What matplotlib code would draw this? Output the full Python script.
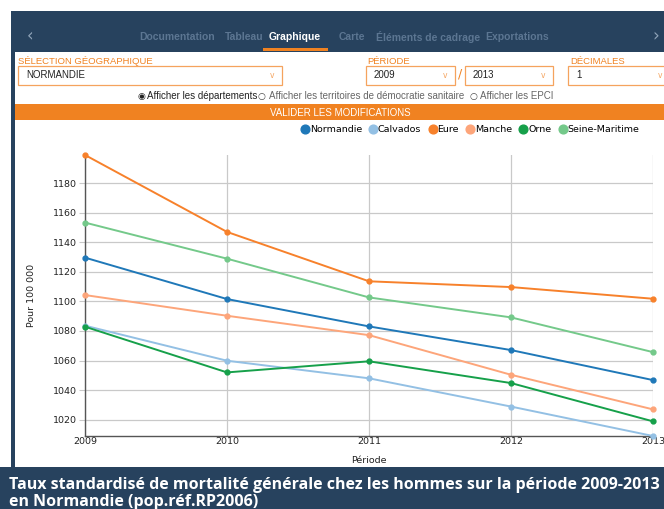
import matplotlib
matplotlib.use("Agg")
import matplotlib.pyplot as plt
from matplotlib.patches import Rectangle

years = [2009, 2010, 2011, 2012, 2013]
names = ["Normandie", "Calvados", "Eure", "Manche", "Orne", "Seine-Maritime"]
normandie = [1129.6, 1101.6, 1083.1, 1067.1, 1046.8]
calvados = [1083.6, 1059.9, 1048.0, 1028.9, 1009.0]
eure = [1199.0, 1147.0, 1113.6, 1109.7, 1101.8]
manche = [1104.3, 1090.3, 1077.2, 1050.4, 1027.0]
orne = [1082.9, 1052.0, 1059.5, 1044.8, 1018.9]
seine_maritime = [1153.3, 1128.9, 1102.7, 1089.2, 1065.7]
series = [normandie, calvados, eure, manche, orne, seine_maritime]
colors = ["#1f78b8", "#93c0e4", "#f7812b", "#fda57a", "#16a04a", "#74c98a"]
y_ticks = [1020, 1040, 1060, 1080, 1100, 1120, 1140, 1160, 1180]

tabs = ["Documentation", "Tableau", "Graphique", "Carte", "Éléments de cadrage", "Exportations"]
tab_x = [177, 244, 295, 352, 428, 517]

W, H = 664, 509
navy = "#27425e"
orange = "#f08221"
ui = ["Liberation Sans", "DejaVu Sans"]

fig = plt.figure(figsize=(W / 100, H / 100), dpi=100, facecolor="white")


def fx(x):
    return x / W


def fy(y):
    return 1 - y / H


def rect(x0, y0, x1, y1, **kw):
    fig.patches.append(Rectangle((fx(x0), fy(y1)), fx(x1) - fx(x0), fy(y0) - fy(y1),
                                 transform=fig.transFigure, **kw))


def txt(x, y, s, **kw):
    fig.text(fx(x), fy(y), s, **kw)


# frame
rect(11, 11, W, H, facecolor=navy, edgecolor="none")
rect(15, 52, W, 467, facecolor="white", edgecolor="none")

# nav bar
txt(30, 36, "‹", color="#8fa3b8", fontsize=12, va="center", ha="center")
txt(656, 36, "›", color="#8fa3b8", fontsize=12, va="center", ha="center")
for t, x in zip(tabs, tab_x):
    active = t == "Graphique"
    txt(x, 37, t, color="white" if active else "#5c7692", fontsize=7.5,
        fontweight="bold", va="center", ha="center", family=ui)
rect(263, 48, 328, 51, facecolor=orange, edgecolor="none")

# selectors
lab = dict(color=orange, fontsize=6.8, va="center", ha="left", family=ui)
txt(18, 61, "SÉLECTION GÉOGRAPHIQUE", **lab)
txt(367, 61, "PÉRIODE", **lab)
txt(570, 61, "DÉCIMALES", **lab)
for x0, x1, s in [(18, 282, "NORMANDIE"), (366, 455, "2009"), (465, 553, "2013"), (568, 670, "1")]:
    rect(x0, 66, x1, 85, facecolor="white", edgecolor="#f5a35e", linewidth=0.9)
    txt(x0 + 8, 75.5, s, color="#222222", fontsize=7, va="center", ha="left", family=ui)
    txt(x1 - 10, 75, "v", color="#f5a35e", fontsize=5.5, va="center", ha="center")
txt(460, 74, "/", color=orange, fontsize=9, va="center", ha="center")

txt(137, 96, "◉", color="#222222", fontsize=6.5, va="center", ha="left")
txt(147, 96, "Afficher les départements", color="#222222", fontsize=7, va="center",
    ha="left", family=ui)
txt(258, 96, "○", color="#444444", fontsize=6.5, va="center", ha="left")
txt(269, 96, "Afficher les territoires de démocratie sanitaire", color="#666666",
    fontsize=7, va="center", ha="left", family=ui)
txt(469, 96, "○", color="#444444", fontsize=6.5, va="center", ha="left")
txt(480, 96, "Afficher les EPCI", color="#666666", fontsize=7, va="center",
    ha="left", family=ui)

rect(15, 104, W, 120, facecolor=orange, edgecolor="none")
txt(340, 112.5, "VALIDER LES MODIFICATIONS", color="white", fontsize=7, va="center",
    ha="center", family=ui)

# chart
ax = fig.add_axes([fx(85), fy(436), fx(653) - fx(85), fy(155) - fy(436)])
ax.set_zorder(5)
for vals, c, n in zip(series, colors, names):
    ax.plot(years, vals, color=c, lw=1.4, marker="o", ms=3.5, label=n, clip_on=False, zorder=3)
ax.set_xlim(years[0], years[-1])
ax.set_ylim(min(calvados), max(eure))
ax.set_xticks(years)
ax.set_yticks(y_ticks)
ax.grid(True, color="#c9c9c9", lw=0.9)
ax.set_axisbelow(True)
for s in ["top", "right"]:
    ax.spines[s].set_visible(False)
for s in ["left", "bottom"]:
    ax.spines[s].set_color("#555555")
    ax.spines[s].set_linewidth(1)
ax.tick_params(axis="y", length=4, color="#c9c9c9", labelsize=6.8, pad=2, labelcolor="#222222")
ax.tick_params(axis="x", length=0, labelsize=6.8, pad=1, labelcolor="#222222")
ax.set_ylabel("Pour 100 000", fontsize=6.8, color="#222222", labelpad=12)
ax.set_xlabel("Période", fontsize=6.8, color="#222222", labelpad=7)
ax.legend(loc="lower right", bbox_to_anchor=(fx(643), fy(138)), bbox_transform=fig.transFigure,
          ncol=6, frameon=False, fontsize=6.8, handlelength=0.6, handletextpad=0.2,
          columnspacing=0.9, borderaxespad=0, markerscale=1.8)
for h in ax.get_legend().legend_handles:
    h.set_linestyle("none")

# caption
cap = dict(color="white", fontsize=11.5, fontweight="bold", va="center", ha="left",
           family=["Open Sans", "DejaVu Sans"])
rect(0, 467, W, H, facecolor=navy, edgecolor="none")
txt(9, 485, "Taux standardisé de mortalité générale chez les hommes sur la période 2009-2013", **cap)
txt(9, 502, "en Normandie (pop.réf.RP2006)", **cap)

fig.savefig("out.png", dpi=100, facecolor="white")
